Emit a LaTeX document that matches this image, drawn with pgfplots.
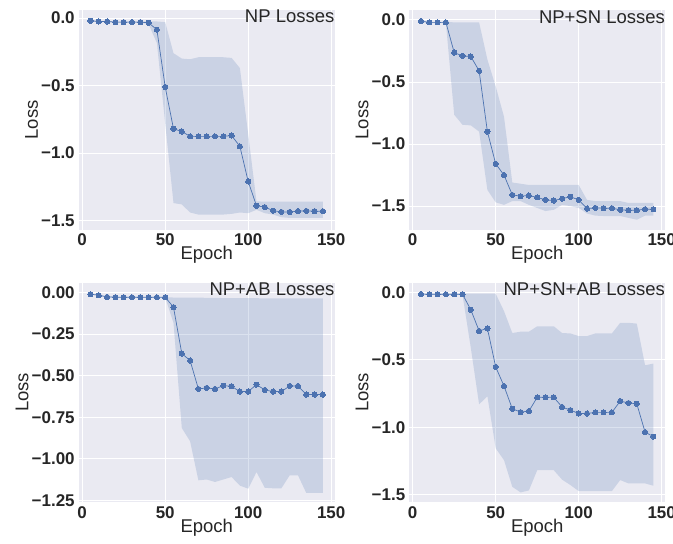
\documentclass[border=0pt]{standalone}
\usepackage{fontspec}
\setmainfont{Liberation Sans}
\usepackage{pgfplots}
\pgfplotsset{compat=1.18}
\usepgfplotslibrary{groupplots,fillbetween}
\usepackage{pgfplotstable}

\definecolor{sbblue}{HTML}{4C72B0}
\definecolor{sbbg}{HTML}{EAEAF2}
\definecolor{sbtext}{HTML}{262626}

% ep = epoch, m = mean loss, hi/lo = band
\pgfplotstableread{
ep m hi lo
5 -0.020 -0.015 -0.025
10 -0.025 -0.020 -0.030
15 -0.025 -0.020 -0.030
20 -0.030 -0.025 -0.035
25 -0.030 -0.025 -0.035
30 -0.030 -0.025 -0.035
35 -0.030 -0.025 -0.035
40 -0.035 -0.025 -0.045
45 -0.086 -0.025 -0.185
50 -0.510 -0.030 -0.780
55 -0.820 -0.260 -1.370
60 -0.840 -0.300 -1.380
65 -0.876 -0.305 -1.440
70 -0.876 -0.290 -1.455
75 -0.876 -0.290 -1.455
80 -0.876 -0.290 -1.455
85 -0.876 -0.290 -1.455
90 -0.870 -0.295 -1.450
95 -0.950 -0.370 -1.440
100 -1.210 -0.860 -1.445
105 -1.390 -1.357 -1.420
110 -1.400 -1.360 -1.445
115 -1.426 -1.360 -1.455
120 -1.436 -1.360 -1.475
125 -1.436 -1.360 -1.480
130 -1.430 -1.360 -1.480
135 -1.428 -1.360 -1.480
140 -1.430 -1.360 -1.480
145 -1.430 -1.360 -1.480
}\tNP

\pgfplotstableread{
ep m hi lo
5 -0.010 -0.005 -0.015
10 -0.020 -0.015 -0.025
15 -0.020 -0.015 -0.025
20 -0.020 -0.015 -0.025
25 -0.263 -0.020 -0.764
30 -0.290 -0.020 -0.845
35 -0.295 -0.020 -0.850
40 -0.410 -0.020 -0.900
45 -0.900 -0.320 -1.370
50 -1.160 -0.536 -1.470
55 -1.250 -0.780 -1.490
60 -1.410 -1.310 -1.460
65 -1.420 -1.320 -1.460
70 -1.415 -1.330 -1.490
75 -1.430 -1.330 -1.515
80 -1.450 -1.330 -1.540
85 -1.455 -1.330 -1.530
90 -1.440 -1.330 -1.490
95 -1.425 -1.330 -1.500
100 -1.450 -1.330 -1.515
105 -1.520 -1.450 -1.560
110 -1.515 -1.460 -1.577
115 -1.517 -1.460 -1.580
120 -1.517 -1.460 -1.580
125 -1.530 -1.460 -1.580
130 -1.533 -1.475 -1.595
135 -1.533 -1.475 -1.610
140 -1.525 -1.475 -1.577
145 -1.525 -1.475 -1.577
}\tNPSN

\pgfplotstableread{
ep m hi lo
5 -0.010 -0.008 -0.012
10 -0.016 -0.014 -0.018
15 -0.026 -0.024 -0.028
20 -0.028 -0.026 -0.030
25 -0.028 -0.026 -0.030
30 -0.028 -0.026 -0.030
35 -0.028 -0.026 -0.030
40 -0.028 -0.026 -0.030
45 -0.028 -0.026 -0.030
50 -0.028 -0.028 -0.030
55 -0.088 -0.030 -0.183
60 -0.367 -0.030 -0.815
65 -0.409 -0.030 -0.895
70 -0.580 -0.030 -1.130
75 -0.574 -0.032 -1.125
80 -0.580 -0.032 -1.140
85 -0.560 -0.033 -1.125
90 -0.564 -0.033 -1.110
95 -0.596 -0.034 -1.162
100 -0.596 -0.034 -1.180
105 -0.554 -0.034 -1.080
110 -0.586 -0.035 -1.175
115 -0.596 -0.035 -1.178
120 -0.596 -0.035 -1.178
125 -0.562 -0.035 -1.100
130 -0.562 -0.035 -1.100
135 -0.614 -0.035 -1.206
140 -0.614 -0.035 -1.206
145 -0.614 -0.035 -1.206
}\tNPAB

\pgfplotstableread{
ep m hi lo
5 -0.010 -0.005 -0.015
10 -0.012 -0.008 -0.016
15 -0.012 -0.008 -0.016
20 -0.012 -0.008 -0.016
25 -0.012 -0.008 -0.016
30 -0.012 -0.008 -0.016
35 -0.127 -0.008 -0.410
40 -0.284 -0.008 -0.830
45 -0.266 -0.008 -0.770
50 -0.552 -0.008 -1.157
55 -0.694 -0.137 -1.245
60 -0.863 -0.300 -1.443
65 -0.888 -0.290 -1.485
70 -0.880 -0.290 -1.470
75 -0.778 -0.250 -1.320
80 -0.778 -0.250 -1.320
85 -0.778 -0.250 -1.320
90 -0.850 -0.300 -1.390
95 -0.873 -0.303 -1.430
100 -0.898 -0.323 -1.475
105 -0.898 -0.323 -1.475
110 -0.890 -0.303 -1.475
115 -0.890 -0.303 -1.475
120 -0.890 -0.303 -1.475
125 -0.806 -0.224 -1.393
130 -0.820 -0.224 -1.418
135 -0.826 -0.230 -1.418
140 -1.037 -0.540 -1.418
145 -1.070 -0.527 -1.435
}\tNPSNAB

\pgfplotsset{
  sbmean/.style={sbblue, line width=0.7pt, mark=*, mark size=2.6pt,
    mark options={fill=sbblue, draw=sbblue, line width=0pt}},
  sbband/.style={fill=sbblue, fill opacity=0.2, draw=none},
}

\newcommand{\losstitle}[1]{%
  \node[anchor=north east, inner sep=0pt, text=sbtext,
        font=\fontsize{18.5}{20}\selectfont] at (rel axis cs:1,1) {#1};}
\newcommand{\tb}[1]{\textbf{#1}}

\begin{document}
\begin{tikzpicture}
\begin{groupplot}[
  group style={group size=2 by 2, horizontal sep=75pt, vertical sep=53pt},
  scale only axis, width=256pt, height=220pt,
  xmin=-2, xmax=152,
  xtick={0,50,100,150}, xticklabels={\tb{0},\tb{50},\tb{100},\tb{150}},
  axis background/.style={fill=sbbg},
  axis line style={draw=none},
  major tick length=0pt,
  grid=major,
  major grid style={white, line width=0.9pt},
  tick label style={font=\fontsize{17}{19}\selectfont\bfseries, text=sbtext},
  xticklabel style={inner sep=1pt, yshift=-3pt},
  yticklabel style={inner sep=1pt, xshift=-3pt},
  label style={font=\fontsize{18.5}{20}\selectfont, text=sbtext},
  xlabel style={inner sep=0pt, yshift=0.5pt},
  ylabel style={inner sep=2pt},
  xlabel={Epoch}, ylabel={Loss},
]

\nextgroupplot[ymin=-1.567, ymax=0.06,
  ytick={0,-0.5,-1,-1.5}, yticklabels={\tb{0.0},\tb{−0.5},\tb{−1.0},\tb{−1.5}}]
\addplot[draw=none, name path=a1] table[x=ep, y=hi]{\tNP};
\addplot[draw=none, name path=b1] table[x=ep, y=lo]{\tNP};
\addplot[sbband] fill between[of=a1 and b1];
\addplot[sbmean] table[x=ep, y=m]{\tNP};
\losstitle{NP Losses}

\nextgroupplot[ymin=-1.69, ymax=0.08,
  ytick={0,-0.5,-1,-1.5}, yticklabels={\tb{0.0},\tb{−0.5},\tb{−1.0},\tb{−1.5}}]
\addplot[draw=none, name path=a2] table[x=ep, y=hi]{\tNPSN};
\addplot[draw=none, name path=b2] table[x=ep, y=lo]{\tNPSN};
\addplot[sbband] fill between[of=a2 and b2];
\addplot[sbmean] table[x=ep, y=m]{\tNPSN};
\losstitle{NP+SN Losses}

\nextgroupplot[ymin=-1.262, ymax=0.06,
  ytick={0,-0.25,-0.5,-0.75,-1,-1.25},
  yticklabels={\tb{0.00},\tb{−0.25},\tb{−0.50},\tb{−0.75},\tb{−1.00},\tb{−1.25}}]
\addplot[draw=none, name path=a3] table[x=ep, y=hi]{\tNPAB};
\addplot[draw=none, name path=b3] table[x=ep, y=lo]{\tNPAB};
\addplot[sbband] fill between[of=a3 and b3];
\addplot[sbmean] table[x=ep, y=m]{\tNPAB};
\losstitle{NP+AB Losses}

\nextgroupplot[ymin=-1.558, ymax=0.075,
  ytick={0,-0.5,-1,-1.5}, yticklabels={\tb{0.0},\tb{−0.5},\tb{−1.0},\tb{−1.5}}]
\addplot[draw=none, name path=a4] table[x=ep, y=hi]{\tNPSNAB};
\addplot[draw=none, name path=b4] table[x=ep, y=lo]{\tNPSNAB};
\addplot[sbband] fill between[of=a4 and b4];
\addplot[sbmean] table[x=ep, y=m]{\tNPSNAB};
\losstitle{NP+SN+AB Losses}

\end{groupplot}
\pgfresetboundingbox
\path[use as bounding box] ([shift={(-79pt,10pt)}]group c1r1.north west)
  rectangle ([shift={(8pt,-41pt)}]group c2r2.south east);
\end{tikzpicture}
\end{document}
